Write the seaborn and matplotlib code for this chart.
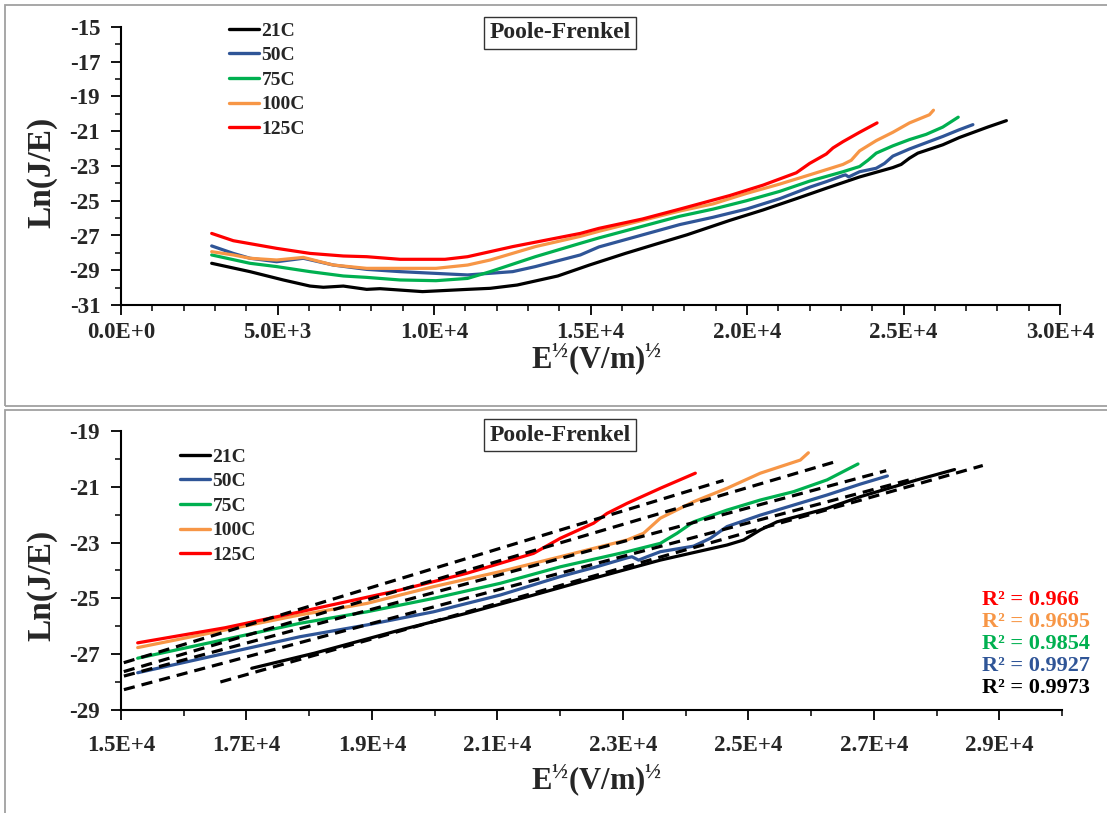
import numpy as np
import pandas as pd
import matplotlib
matplotlib.use('Agg')
import matplotlib.pyplot as plt
import seaborn as sns
from matplotlib.ticker import FuncFormatter
from matplotlib.lines import Line2D
from matplotlib.patches import Rectangle

# ---------------- data ----------------
labels = ['21C', '50C', '75C', '100C', '125C']
colors = ['#000000', '#2F5597', '#00B050', '#F79646', '#FF0000']

x_21 = [2897, 4121, 5186, 6038, 6464, 7103, 7849, 8275, 8914, 9633, 11073, 11796, 12658, 13955,
        14965, 16115, 17084, 18083, 19450, 20514, 21576, 22533, 23597, 24660, 24925, 25191, 25457,
        26255, 26786, 27690, 28287]
y_21 = [-28.60, -29.08, -29.56, -29.91, -29.98, -29.91, -30.10, -30.06, -30.14, -30.23, -30.10,
        -30.04, -29.85, -29.33, -28.70, -28.03, -27.50, -26.96, -26.13, -25.53, -24.88, -24.28,
        -23.63, -23.09, -22.91, -22.55, -22.26, -21.78, -21.36, -20.76, -20.39]

x_50 = [2897, 3589, 4121, 4974, 5825, 6784, 7849, 8914, 11073, 12514, 13237, 14674, 15266, 17855,
        18919, 19981, 21045, 22002, 22533, 23066, 23145, 23251, 23385, 23597, 24128, 24394, 24660,
        25191, 25723, 26255, 26786, 27217]
y_50 = [-27.60, -28.03, -28.31, -28.51, -28.31, -28.70, -28.95, -29.08, -29.27, -29.08, -28.79,
        -28.12, -27.66, -26.37, -25.95, -25.48, -24.88, -24.22, -23.90, -23.55, -23.51, -23.63,
        -23.51, -23.33, -23.13, -22.85, -22.43, -22.02, -21.66, -21.30, -20.91, -20.62]

x_75 = [2897, 4121, 4974, 6038, 7103, 7849, 8914, 10064, 11073, 11796, 13237, 14674, 15266, 17855,
        18919, 19981, 21045, 22002, 23066, 23597, 23863, 24128, 24660, 25191, 25723, 26255, 26748]
y_75 = [-28.12, -28.60, -28.79, -29.08, -29.33, -29.41, -29.56, -29.60, -29.47, -29.08, -28.22,
        -27.45, -27.14, -25.89, -25.48, -25.00, -24.46, -23.87, -23.33, -23.03, -22.67, -22.26,
        -21.84, -21.48, -21.18, -20.76, -20.19]

x_100 = [2897, 3589, 4121, 4974, 5825, 6784, 7849, 8914, 10064, 11073, 11796, 13237, 14674, 15266,
         17855, 18919, 19981, 21045, 22002, 23066, 23330, 23597, 24128, 24660, 25191, 25829, 25957]
y_100 = [-27.93, -28.12, -28.31, -28.41, -28.26, -28.70, -28.89, -28.89, -28.89, -28.70, -28.41,
         -27.64, -27.05, -26.76, -25.59, -25.18, -24.58, -24.04, -23.51, -22.91, -22.67, -22.13,
         -21.54, -21.06, -20.52, -20.05, -19.79]

x_125 = [2897, 3589, 4974, 6038, 7103, 7849, 8914, 10351, 11073, 12514, 14674, 15266, 16659, 17855,
         19450, 20514, 21576, 22002, 22533, 22747, 23066, 23597, 24155]
y_125 = [-26.88, -27.30, -27.74, -28.03, -28.18, -28.22, -28.37, -28.37, -28.22, -27.64, -26.88,
         -26.59, -26.05, -25.48, -24.70, -24.10, -23.39, -22.85, -22.31, -21.96, -21.60, -21.06,
         -20.52]

series_x = [x_21, x_50, x_75, x_100, x_125]
series_y = [y_21, y_50, y_75, y_100, y_125]

r2_values = [0.9973, 0.9927, 0.9854, 0.9695, 0.966]
fit_start = [17000, 15200, 15200, 15200, 15200]   # first E of the fitted (zoomed) range
trend_backward = 500
trend_forward = 450

top_xticks = [0, 5000, 10000, 15000, 20000, 25000, 30000]
top_yticks = [-31, -29, -27, -25, -23, -21, -19, -17, -15]
bot_xticks = [15000, 17000, 19000, 21000, 23000, 25000, 27000, 29000]
bot_yticks = [-29, -27, -25, -23, -21, -19]

# ---------------- style ----------------
sns.set_theme(style='white')
plt.rcParams['font.family'] = ['Liberation Serif', 'DejaVu Serif']
plt.rcParams['font.weight'] = 'bold'
plt.rcParams['axes.unicode_minus'] = False
plt.rcParams['mathtext.fontset'] = 'custom'
plt.rcParams['mathtext.rm'] = 'Liberation Serif:bold'
plt.rcParams['mathtext.bf'] = 'Liberation Serif:bold'
plt.rcParams['mathtext.it'] = 'Liberation Serif:bold'

W, H = 1107, 813
fig = plt.figure(figsize=(W / 100, H / 100), dpi=100)
fig.patch.set_facecolor('white')


def fx(px):
    return px / W


def fy(py):
    return 1 - py / H


# panel frames
fig.patches.append(Rectangle((fx(5), fy(406)), fx(1200), (406 - 5) / H, transform=fig.transFigure,
                             fill=False, edgecolor='#A0A0A0', lw=1.3))
fig.patches.append(Rectangle((fx(5), fy(900)), fx(1200), (900 - 410) / H, transform=fig.transFigure,
                             fill=False, edgecolor='#A0A0A0', lw=1.3))

rows = []
for lab, xs, ys in zip(labels, series_x, series_y):
    for xv, yv in zip(xs, ys):
        rows.append((lab, xv, yv))
df = pd.DataFrame(rows, columns=['T', 'E', 'lnJE'])
pal = dict(zip(labels, colors))


def sci(v, pos):
    if v == 0:
        return '0.0E+0'
    e = int(np.floor(np.log10(abs(v)) + 1e-9))
    m = v / 10 ** e
    return f'{m:.1f}E+{e}'


def style_axes(ax, xpad):
    for s in ['top', 'right']:
        ax.spines[s].set_visible(False)
    for s in ['left', 'bottom']:
        ax.spines[s].set_color('black')
        ax.spines[s].set_linewidth(1.5)
    ax.tick_params(which='major', direction='out', length=7, width=1.3, color='black',
                   labelsize=16.5, left=True, bottom=True)
    ax.tick_params(which='minor', direction='out', length=4, width=1.1, color='black',
                   left=True, bottom=True)
    ax.tick_params(axis='x', pad=xpad)
    ax.tick_params(axis='y', pad=8)
    ax.xaxis.set_major_formatter(FuncFormatter(sci))
    for t in ax.get_xticklabels() + ax.get_yticklabels():
        t.set_fontweight('bold')
    ax.set_xlabel('')
    ax.set_ylabel('')
    ax.grid(False)
    ax.set_facecolor('none')


def legend(ax, px, py):
    handles = [Line2D([0], [0], color=c, lw=2.4) for c in colors]
    ax.legend(handles, labels, loc='upper left', bbox_to_anchor=(fx(px), fy(py)),
              bbox_transform=fig.transFigure, frameon=False, borderpad=0, borderaxespad=0,
              handlelength=1.55, handletextpad=0.12, labelspacing=0.36,
              prop={'family': 'Liberation Serif', 'weight': 'bold', 'size': 14})


# ---------------- top panel ----------------
ax1 = fig.add_axes([fx(121), fy(305), 939 / W, 278 / H])
sns.lineplot(data=df, x='E', y='lnJE', hue='T', hue_order=labels, palette=pal,
             estimator=None, sort=False, lw=2.3, ax=ax1, legend=False)
ax1.set_xlim(0, 30000)
ax1.set_ylim(-31, -15)
ax1.set_xticks(top_xticks)
ax1.set_xticks(np.arange(0, 30001, 1000), minor=True)
ax1.set_yticks(top_yticks)
ax1.set_yticks(np.arange(-31, -14, 1), minor=True)
style_axes(ax1, 5)
legend(ax1, 229, 22)

# ---------------- bottom panel ----------------
ax2 = fig.add_axes([fx(121), fy(710.2), 941 / W, 279.5 / H])
mask = np.zeros(len(df), dtype=bool)
for lab, s in zip(labels, fit_start):
    mask |= ((df['T'] == lab) & (df['E'] >= s)).values
dfz = df[mask]
sns.lineplot(data=dfz, x='E', y='lnJE', hue='T', hue_order=labels, palette=pal,
             estimator=None, sort=False, lw=2.3, ax=ax2, legend=False)
for lab in labels:
    sub = dfz[dfz['T'] == lab]
    k, b = np.polyfit(sub['E'], sub['lnJE'], 1)
    xr = np.array([sub['E'].min() - trend_backward, sub['E'].max() + trend_forward])
    ax2.plot(xr, k * xr + b, color='black', lw=2.3, ls=(0, (3.5, 2.2)), zorder=3)
ax2.set_xlim(15000, 30000)
ax2.set_ylim(-29, -19)
ax2.set_xticks(bot_xticks)
ax2.set_xticks(np.arange(15000, 30001, 1000), minor=True)
ax2.set_yticks(bot_yticks)
ax2.set_yticks(np.arange(-29, -18, 1), minor=True)
style_axes(ax2, 11)
legend(ax2, 180, 448)

# R^2 annotations
for i, idx in enumerate(range(len(labels) - 1, -1, -1)):
    fig.text(fx(982), fy(600 + 22 * i), f'R² = {r2_values[idx]}', color=colors[idx],
             ha='left', va='center', fontsize=16, fontweight='bold', family='Liberation Serif')

# titles
for py in [33, 435]:
    fig.text(fx(560), fy(py), 'Poole-Frenkel', ha='center', va='center', fontsize=17,
             fontweight='bold', family='Liberation Serif',
             bbox=dict(boxstyle='square,pad=0.22', fc='white', ec='#333333', lw=1.0))

# axis labels
xl = r'$\mathbf{E^{½}(V/m)^{½}}$'
fig.text(fx(597), fy(359), xl, ha='center', va='center', fontsize=22)
fig.text(fx(597), fy(780), xl, ha='center', va='center', fontsize=22)
fig.text(fx(42), fy(172), 'Ln(J/E)', ha='center', va='center', rotation=90, fontsize=24,
         fontweight='bold', family='Liberation Serif')
fig.text(fx(42), fy(585), 'Ln(J/E)', ha='center', va='center', rotation=90, fontsize=24,
         fontweight='bold', family='Liberation Serif')

fig.savefig('out.png', dpi=100, facecolor='white')
